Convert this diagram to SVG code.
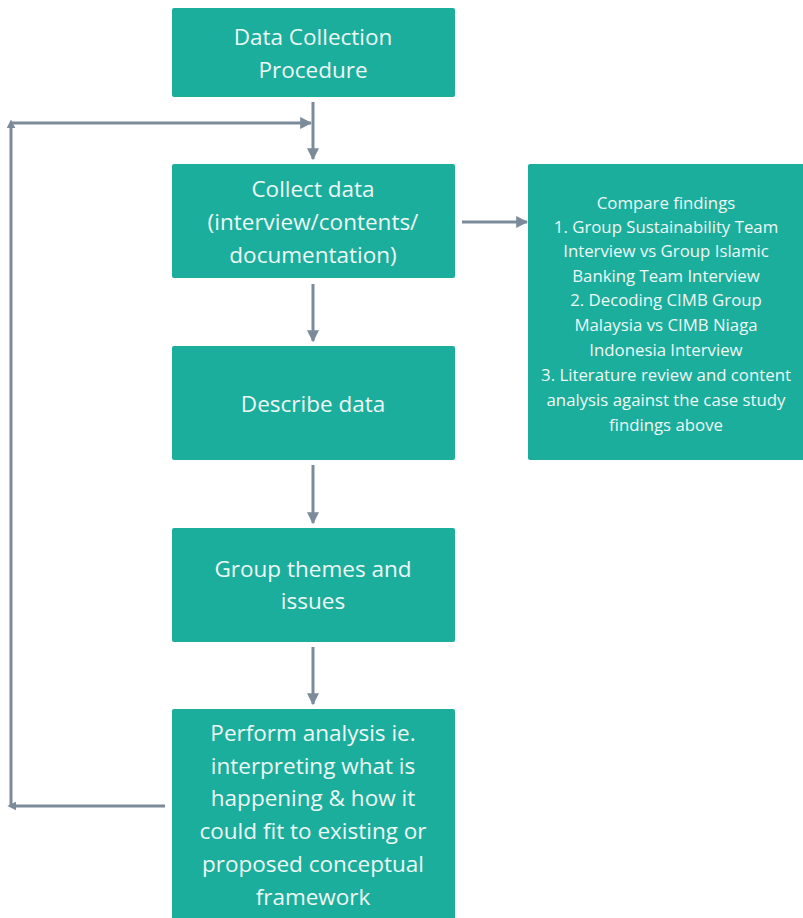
<svg xmlns="http://www.w3.org/2000/svg" width="803" height="918" viewBox="0 0 803 918">
<defs>
<marker id="ah" viewBox="0 0 10 10" refX="9" refY="5" markerWidth="4" markerHeight="4" orient="auto-start-reverse"><path d="M0,0 L10,5 L0,10 z" fill="#7B8B9A"/></marker>
<marker id="sm" viewBox="0 0 10 10" refX="6" refY="5" markerWidth="3" markerHeight="3" orient="auto"><path d="M0,0 L10,5 L0,10 z" fill="#7B8B9A"/></marker>
<style>
.box{fill:#1BAE9C;}
.t{font-family:"Open Sans","Noto Sans",sans-serif;font-size:22.5px;fill:#EEF8F5;text-anchor:middle;dominant-baseline:central;}
.s{font-family:"Open Sans","Noto Sans",sans-serif;font-size:16.8px;fill:#EEF8F5;text-anchor:middle;dominant-baseline:central;}
.c{stroke:#7B8B9A;stroke-width:3;fill:none;marker-end:url(#ah);}
.f{stroke:#7B8B9A;stroke-width:3;fill:none;marker-end:url(#sm);}
</style>
</defs>
<rect width="803" height="918" fill="#FFFFFF"/>
<g id="n1"><rect class="box" x="172" y="8" width="283" height="89" rx="2"/>
<text class="t" x="313" y="36">Data Collection</text><text class="t" x="313" y="69">Procedure</text></g>
<g id="n2"><rect class="box" x="172" y="164" width="283" height="114" rx="2"/>
<text class="t" x="313" y="188">Collect data</text><text class="t" x="313" y="221">(interview/contents/</text><text class="t" x="313" y="254">documentation)</text></g>
<g id="n3"><rect class="box" x="172" y="346" width="283" height="114" rx="2"/>
<text class="t" x="313" y="403">Describe data</text></g>
<g id="n4"><rect class="box" x="172" y="528" width="283" height="114" rx="2"/>
<text class="t" x="313" y="568">Group themes and</text><text class="t" x="313" y="600">issues</text></g>
<g id="n5"><rect class="box" x="172" y="709" width="283" height="215" rx="2"/>
<text class="t" x="313" y="732">Perform analysis ie.</text><text class="t" x="313" y="765">interpreting what is</text><text class="t" x="313" y="797">happening &amp; how it</text><text class="t" x="313" y="830">could fit to existing or</text><text class="t" x="313" y="863">proposed conceptual</text><text class="t" x="313" y="896">framework</text></g>
<g id="n6"><rect class="box" x="528" y="164" width="280" height="296" rx="2"/>
<text class="s" x="666" y="202">Compare findings</text>
<text class="s" x="666" y="226">1. Group Sustainability Team</text>
<text class="s" x="666" y="250">Interview vs Group Islamic</text>
<text class="s" x="666" y="275">Banking Team Interview</text>
<text class="s" x="666" y="299">2. Decoding CIMB Group</text>
<text class="s" x="666" y="324">Malaysia vs CIMB Niaga</text>
<text class="s" x="666" y="349">Indonesia Interview</text>
<text class="s" x="666" y="374">3. Literature review and content</text>
<text class="s" x="666" y="399">analysis against the case study</text>
<text class="s" x="666" y="424">findings above</text></g>
<g id="connectors">
<path class="c" d="M313,102 L313,159"/>
<path class="c" d="M313,284 L313,341"/>
<path class="c" d="M313,465 L313,523"/>
<path class="c" d="M313,647 L313,704"/>
<path class="c" d="M462,222 L527,222"/>
<path class="f" d="M165,806 L11,806"/>
<path class="f" d="M11,806 L11,123"/>
<path class="c" d="M11,123 L311,123"/>
</g>
</svg>
